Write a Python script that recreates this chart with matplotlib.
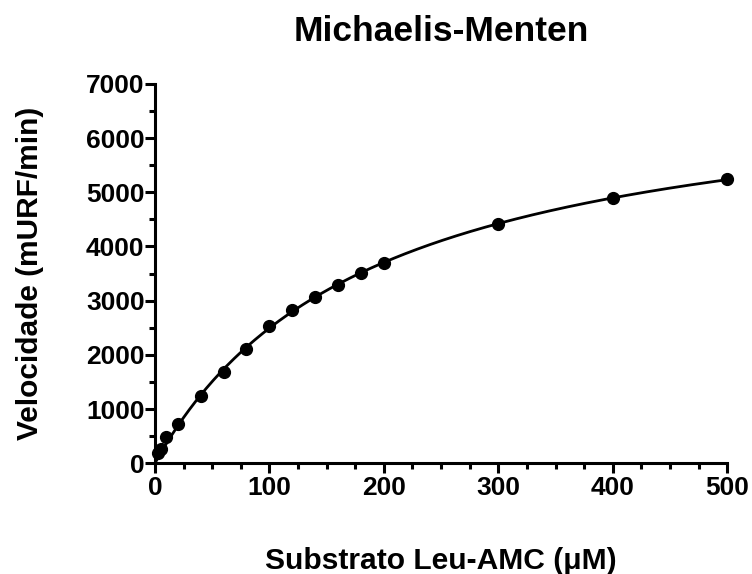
import numpy as np
import matplotlib.pyplot as plt
from matplotlib.ticker import MultipleLocator

# Michaelis-Menten: velocidade vs substrato
substrato = np.array([2.5, 5, 10, 20, 40, 60, 80, 100, 120, 140, 160, 180, 200, 300, 400, 500])  # uM
velocidade = np.array([185, 260, 480, 720, 1237, 1681, 2106, 2530, 2826, 3066, 3288, 3509, 3694, 4414, 4894, 5245])  # mURF/min

# ajuste nao linear simples (busca em Km, Vmax por minimos quadrados)
best = None
for km in np.linspace(50, 400, 3501):
    f = substrato / (km + substrato)
    vmax = np.sum(f * velocidade) / np.sum(f * f)
    err = np.sum((velocidade - vmax * f) ** 2)
    if best is None or err < best[0]:
        best = (err, km, vmax)
_, Km, Vmax = best

xfit = np.linspace(0, 500, 500)
yfit = Vmax * xfit / (Km + xfit)

plt.rcParams['font.family'] = ['Liberation Sans', 'DejaVu Sans']
plt.rcParams['font.weight'] = 'bold'

fig = plt.figure(figsize=(7.52, 5.74), dpi=100)
ax = fig.add_axes([0.206, 0.193, 0.761, 0.661])

ax.plot(xfit, yfit, color='black', lw=2.0, zorder=2)
ax.plot(substrato, velocidade, 'o', color='black', ms=8.5, zorder=3, clip_on=False)

ax.set_xlim(0, 500)
ax.set_ylim(0, 7000)
ax.xaxis.set_major_locator(MultipleLocator(100))
ax.xaxis.set_minor_locator(MultipleLocator(25))
ax.yaxis.set_major_locator(MultipleLocator(1000))
ax.yaxis.set_minor_locator(MultipleLocator(500))

for s in ['top', 'right']:
    ax.spines[s].set_visible(False)
for s in ['left', 'bottom']:
    ax.spines[s].set_linewidth(2.2)

ax.tick_params(which='major', length=7, width=2.2, labelsize=19, pad=2)
ax.tick_params(axis='y', which='major', pad=0.5)
ax.tick_params(which='minor', length=4, width=2.2)

ax.set_title("Michaelis-Menten", fontsize=25.5, fontweight='bold', pad=31)
ax.set_xlabel("Substrato Leu-AMC (\u03bcM)", fontsize=21.6, fontweight='bold')
ax.set_ylabel("Velocidade (mURF/min)", fontsize=21.5, fontweight='bold')
ax.xaxis.set_label_coords(0.5, -0.221)
ax.yaxis.set_label_coords(-0.194, 0.5)

fig.savefig("out.png", dpi=100)
